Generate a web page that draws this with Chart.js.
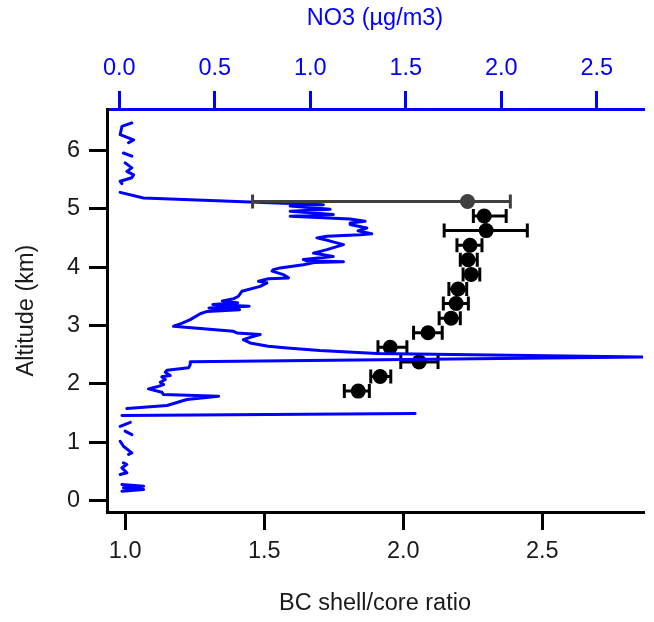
<!DOCTYPE html>
<html>
<head>
<meta charset="utf-8">
<script src="https://cdn.jsdelivr.net/npm/chart.js@4.4.1/dist/chart.umd.min.js"></script>
<style>
  html, body { margin: 0; padding: 0; background: #ffffff; }
  #wrap { width: 654px; height: 622px; }
</style>
</head>
<body>
<div id="wrap"><canvas id="profile" width="654" height="622"></canvas></div>
<script>
// BC shell/core ratio binned by altitude (km), with lower/upper bounds of the bar
const bcAltitude = [4.875, 4.625, 4.375, 4.125, 3.875, 3.625, 3.375, 3.125, 2.875, 2.625, 2.375, 2.125, 1.875];
const bcRatio    = [2.291, 2.298, 2.240, 2.233, 2.244, 2.197, 2.190, 2.172, 2.089, 1.953, 2.057, 1.917, 1.838];
const bcLow      = [2.252, 2.147, 2.193, 2.205, 2.215, 2.164, 2.144, 2.129, 2.037, 1.909, 1.991, 1.883, 1.788];
const bcHigh     = [2.370, 2.446, 2.283, 2.266, 2.275, 2.228, 2.234, 2.205, 2.140, 2.013, 2.125, 1.955, 1.878];

// Top bin, shown separately in grey
const topAltitude = [5.125];
const topRatio    = [2.231];
const topLow      = [1.458];
const topHigh     = [2.385];

// NO3 profile (µg/m3) against altitude (km); null marks a break in the record
const no3Altitude = [
  0.160, 0.188, 0.217, 0.245, 0.274, null,
  0.445, 0.475, 0.560, 0.617, 0.646, null,
  0.790, 0.817, 0.930, 1.016, null,
  1.130, 1.190, null,
  1.270, 1.340, null,
  1.458, 1.490, null,
  1.576, 1.627, 1.730, 1.787, 1.816, 1.855, 1.913, 1.948, 1.987, 2.027,
  2.073, 2.119, 2.141, 2.198, 2.232, 2.273, 2.330, 2.376, 2.458, 2.518,
  2.570, 2.615, 2.643, 2.700, 2.758, 2.800, 2.843, 2.872, 2.900, 2.985,
  3.040, 3.100, 3.200, 3.240, 3.270, 3.300, 3.330, 3.360, 3.390, 3.420,
  3.460, 3.500, 3.585, 3.670, 3.730, 3.757, 3.800, 3.815, 3.870, 3.930,
  3.957, 3.986, 4.040, 4.080, 4.090, 4.110, 4.130, 4.180, 4.240, 4.300,
  4.385, 4.450, 4.500, 4.530, 4.556, 4.570, 4.620, 4.670, 4.730, 4.757,
  4.785, 4.825, 4.870, 4.900, 4.955, 4.990, 5.045, 5.070, 5.185, 5.280, null,
  5.430, 5.470, 5.530, 5.580, 5.640, 5.700, 5.785, null,
  5.900, 5.955, null,
  6.130, 6.180, 6.270, 6.410, 6.470
];
const no3Conc = [
  0.014, 0.128, 0.022, 0.128, 0.014, null,
  0.005, 0.040, 0.014, 0.040, 0.022, null,
  0.049, 0.066, 0.022, 0.005, null,
  0.066, 0.031, null,
  0.005, 0.058, null,
  0.014, 1.549, null,
  0.040, 0.250, 0.354, 0.520, 0.232, 0.223, 0.153, 0.197, 0.232, 0.215,
  0.241, 0.223, 0.267, 0.241, 0.250, 0.363, 0.372, 0.372, 2.760, 1.349,
  1.050, 0.880, 0.780, 0.685, 0.650, 0.690, 0.738, 0.616, 0.598, 0.284,
  0.330, 0.372, 0.424, 0.460, 0.630, 0.470, 0.680, 0.490, 0.620, 0.540,
  0.600, 0.624, 0.642, 0.738, 0.773, 0.729, 0.781, 0.886, 0.860, 0.800,
  0.807, 0.842, 0.964, 1.020, 1.174, 0.980, 0.964, 1.120, 1.017, 1.087,
  1.174, 1.100, 1.035, 1.087, 1.261, 1.322, 1.250, 1.296, 1.209, 1.209,
  1.287, 1.209, 0.895, 1.121, 0.895, 1.104, 0.895, 1.069, 0.127, 0.005, null,
  0.014, 0.005, 0.066, 0.075, 0.040, 0.066, 0.031, null,
  0.066, 0.022, null,
  0.049, 0.075, 0.005, 0.014, 0.066
];

// Tick values for each axis
const bcTicks  = [1.0, 1.5, 2.0, 2.5];
const no3Ticks = [0.0, 0.5, 1.0, 1.5, 2.0, 2.5];
const altTicks = [0, 1, 2, 3, 4, 5, 6];

const FONT = 'Liberation Sans, Arial, Helvetica, sans-serif';
const BLUE = '#0000ff';
const INK = '#1a1a1a';

const toPoints = (xs, ys) => xs.map((x, i) => ({ x: x, y: ys[i] }));

// Horizontal bars with end caps, drawn just before each dataset's markers
const errorBars = {
  id: 'errorBars',
  beforeDatasetDraw(chart, args) {
    const ds = chart.data.datasets[args.index];
    if (!ds.errLow) return;
    const xs = chart.scales[ds.xAxisID || 'x'];
    const ys = chart.scales[ds.yAxisID || 'y'];
    const ctx = chart.ctx;
    ctx.save();
    ctx.strokeStyle = ds.errColor;
    ctx.lineWidth = ds.errWidth;
    ctx.lineCap = 'butt';
    ds.data.forEach((p, i) => {
      const y = ys.getPixelForValue(p.y);
      const x1 = xs.getPixelForValue(ds.errLow[i]);
      const x2 = xs.getPixelForValue(ds.errHigh[i]);
      const h = ds.capHalf;
      ctx.beginPath();
      ctx.moveTo(x1, y); ctx.lineTo(x2, y);
      ctx.moveTo(x1, y - h); ctx.lineTo(x1, y + h);
      ctx.moveTo(x2, y - h); ctx.lineTo(x2, y + h);
      ctx.stroke();
    });
    ctx.restore();
  }
};

const tickFont = { family: FONT, size: 23.5 };
const titleFont = { family: FONT, size: 23.5 };

new Chart(document.getElementById('profile'), {
  type: 'scatter',
  data: {
    datasets: [
      {
        label: 'BC shell/core ratio (top bin)',
        data: toPoints(topRatio, topAltitude),
        xAxisID: 'x', yAxisID: 'y',
        pointRadius: 7.5, pointBackgroundColor: '#404040', pointBorderWidth: 0,
        errLow: topLow, errHigh: topHigh, errColor: '#404040', errWidth: 3, capHalf: 7
      },
      {
        label: 'NO3',
        data: toPoints(no3Conc, no3Altitude),
        xAxisID: 'x2', yAxisID: 'y',
        showLine: true, spanGaps: false,
        borderColor: BLUE, borderWidth: 3, pointRadius: 0,
        borderJoinStyle: 'round', borderCapStyle: 'round',
        clip: 0
      },
      {
        label: 'BC shell/core ratio',
        data: toPoints(bcRatio, bcAltitude),
        xAxisID: 'x', yAxisID: 'y',
        pointRadius: 7.5, pointBackgroundColor: '#000000', pointBorderWidth: 0,
        errLow: bcLow, errHigh: bcHigh, errColor: '#000000', errWidth: 3, capHalf: 7
      }
    ]
  },
  options: {
    responsive: false,
    animation: false,
    layout: { padding: { left: 0, right: 11, top: 0, bottom: 0 } },
    plugins: { legend: { display: false }, tooltip: { enabled: false } },
    scales: {
      x: {
        type: 'linear', position: 'bottom',
        min: 0.9346, max: 2.862,
        afterBuildTicks: s => { s.ticks = bcTicks.map(v => ({ value: v })); },
        afterFit: s => { s.height = 110; },
        grid: { drawOnChartArea: false, color: '#000', lineWidth: 3, tickLength: 18 },
        border: { color: '#000', width: 3 },
        ticks: { color: INK, font: tickFont, padding: 7, autoSkip: false, maxRotation: 0,
                 callback: v => Number(v).toFixed(1) },
        title: { display: true, text: 'BC shell/core ratio', color: INK, font: titleFont,
                 padding: { top: 0, bottom: 4 } }
      },
      x2: {
        type: 'linear', position: 'top',
        min: -0.064, max: 2.742,
        afterBuildTicks: s => { s.ticks = no3Ticks.map(v => ({ value: v })); },
        afterFit: s => { s.height = 109; },
        grid: { drawOnChartArea: false, color: BLUE, lineWidth: 3, tickLength: 18 },
        border: { color: BLUE, width: 3 },
        ticks: { color: BLUE, font: tickFont, padding: 8, autoSkip: false, maxRotation: 0,
                 callback: v => Number(v).toFixed(1) },
        title: { display: true, text: 'NO3 (µg/m3)', color: BLUE, font: titleFont,
                 padding: { top: 4, bottom: 0 } }
      },
      y: {
        type: 'linear', position: 'left',
        min: -0.197, max: 6.709,
        afterBuildTicks: s => { s.ticks = altTicks.map(v => ({ value: v })); },
        afterFit: s => { s.width = 107; },
        grid: { drawOnChartArea: false, color: '#000', lineWidth: 3, tickLength: 18 },
        border: { color: '#000', width: 3 },
        ticks: { color: INK, font: tickFont, padding: 9, autoSkip: false,
                 callback: v => String(v) },
        title: { display: true, text: 'Altitude (km)', color: INK, font: titleFont,
                 padding: { top: 12, bottom: 0 } }
      }
    }
  },
  plugins: [errorBars]
});
</script>
</body>
</html>
